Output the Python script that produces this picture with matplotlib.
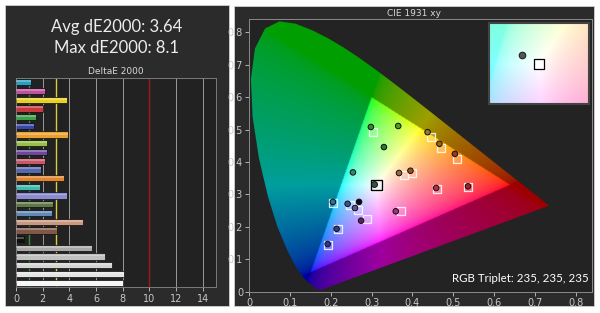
import numpy as np
import matplotlib
matplotlib.use("Agg")
import matplotlib.pyplot as plt
from matplotlib.patches import Rectangle, Polygon

# ---------------- data ----------------
avg_de = 3.64
max_de = 8.1
de_values = [1.1, 2.2, 3.85, 2.0, 1.5, 1.35, 3.9, 2.35, 2.35, 2.2, 1.85, 3.6,
             1.8, 3.85, 2.8, 2.7, 5.05, 3.1, 0.6, 5.7, 6.7, 7.2, 8.1, 8.0]
de_colors = ["#2a9fc6", "#c050a0", "#e8d020", "#c83a40", "#40a048", "#3848a8",
             "#e8a030", "#98c048", "#6a4a98", "#c85868", "#5868b0", "#e08530",
             "#40b8b0", "#8c8cd0", "#607848", "#6088b8", "#c89880", "#805848",
             "#101010", "#a8a8a8", "#c0c0c0", "#d4d4d4", "#e4e4e4", "#f6f6f6"]
de_ticks = [0, 2, 4, 6, 8, 10, 12, 14]
threshold_lines = [1, 3, 10]
threshold_colors = ["#3c8c3c", "#d8cc40", "#a01818"]

# CIE 1931 2-degree spectral locus (380-700 nm)
locus_x = [0.1741, 0.1740, 0.1738, 0.1736, 0.1733, 0.1730, 0.1726, 0.1721, 0.1714,
           0.1703, 0.1689, 0.1669, 0.1644, 0.1611, 0.1566, 0.1510, 0.1440, 0.1355,
           0.1241, 0.1096, 0.0913, 0.0687, 0.0454, 0.0235, 0.0082, 0.0039, 0.0139,
           0.0389, 0.0743, 0.1142, 0.1547, 0.1929, 0.2296, 0.2658, 0.3016, 0.3373,
           0.3731, 0.4087, 0.4441, 0.4788, 0.5125, 0.5448, 0.5752, 0.6029, 0.6270,
           0.6482, 0.6658, 0.6801, 0.6915, 0.7006, 0.7079, 0.7140, 0.7190, 0.7230,
           0.7260, 0.7300, 0.7320, 0.7334, 0.7347]
locus_y = [0.0050, 0.0050, 0.0049, 0.0049, 0.0048, 0.0048, 0.0048, 0.0048, 0.0051,
           0.0058, 0.0069, 0.0086, 0.0109, 0.0138, 0.0177, 0.0227, 0.0297, 0.0399,
           0.0578, 0.0868, 0.1327, 0.2007, 0.2950, 0.4127, 0.5384, 0.6548, 0.7502,
           0.8120, 0.8338, 0.8262, 0.8059, 0.7816, 0.7543, 0.7243, 0.6923, 0.6589,
           0.6245, 0.5896, 0.5547, 0.5202, 0.4866, 0.4544, 0.4242, 0.3965, 0.3725,
           0.3514, 0.3340, 0.3197, 0.3083, 0.2993, 0.2920, 0.2859, 0.2809, 0.2770,
           0.2740, 0.2700, 0.2680, 0.2666, 0.2653]
gamut_x = [0.64, 0.30, 0.15]
gamut_y = [0.33, 0.60, 0.06]

target_x = [0.304, 0.445, 0.471, 0.510, 0.400, 0.378, 0.461, 0.536, 0.206, 0.266,
            0.373, 0.289, 0.217, 0.192, 0.246]
target_y = [0.493, 0.477, 0.444, 0.408, 0.366, 0.360, 0.318, 0.323, 0.274, 0.253,
            0.248, 0.225, 0.194, 0.145, 0.268]
meas_x = [0.298, 0.437, 0.466, 0.504, 0.395, 0.367, 0.458, 0.536, 0.205, 0.259,
          0.359, 0.274, 0.214, 0.192, 0.241, 0.254, 0.330, 0.365, 0.269]
meas_y = [0.508, 0.492, 0.456, 0.425, 0.373, 0.366, 0.320, 0.325, 0.277, 0.258,
          0.248, 0.219, 0.194, 0.147, 0.271, 0.368, 0.446, 0.511, 0.277]
meas_colors = ["#2f8a30", "#9a7a20", "#a06020", "#a03818", "#a05010", "#9a6a40",
               "#b03050", "#a02030", "#3070a0", "#605090", "#a03080", "#602060",
               "#304080", "#283890", "#405090", "#308a70", "#2a7a30", "#5a9a20",
               "#0a0a14"]
white_target = (0.3127, 0.3290)
white_meas = (0.305, 0.333)
rgb_triplet = "RGB Triplet: 235, 235, 235"

# ---------------- helpers ----------------
M = np.array([[3.2406, -1.5372, -0.4986],
              [-0.9689, 1.8758, 0.0415],
              [0.0557, -0.2040, 1.0570]])


def xy_to_rgb(x, y):
    y = np.maximum(y, 1e-4)
    X = x / y
    Y = np.ones_like(x)
    Z = (1 - x - y) / y
    rgb = np.stack([X, Y, Z], -1) @ M.T
    inside = (rgb >= 0).all(-1)
    rgb = np.clip(rgb, 0, None)
    rgb = rgb / np.maximum(rgb.max(-1, keepdims=True), 1e-6)
    rgb = rgb ** (1 / 2.2)
    return rgb, inside


W, H = 600, 313
fig = plt.figure(figsize=(6, 3.13), dpi=100)
fig.patch.set_facecolor("white")


def fx(px):
    return px / W


def fy(py):
    return 1 - py / H


# panels
fig.add_artist(Rectangle((fx(5), fy(306)), fx(224), 301 / H, transform=fig.transFigure,
                         facecolor="#2b2b2b", edgecolor="#d0d0d0", lw=0.6, zorder=0))
fig.add_artist(Rectangle((fx(234), fy(306)), fx(360), 300 / H, transform=fig.transFigure,
                         facecolor="#2b2b2b", edgecolor="#d0d0d0", lw=0.6, zorder=0))

txtc = "#ececec"
fig.text(fx(117), fy(27), f"Avg dE2000: {avg_de:.2f}", ha="center", va="center",
         fontsize=12, color=txtc, family="Lato")
fig.text(fx(117), fy(48), f"Max dE2000: {max_de}", ha="center", va="center",
         fontsize=12, color=txtc, family="Lato")
fig.text(fx(116), fy(72), "DeltaE 2000", ha="center", va="center",
         fontsize=6.5, color="#d8d8d8")

# ---------------- bar chart ----------------
ax = fig.add_axes([fx(16), fy(287), fx(200), 209 / H])
ax.set_facecolor("#222222")
n = len(de_values)
ypos = np.arange(n)
for xv in de_ticks[1:]:
    ax.axvline(xv, color="#9a9a9a", lw=0.7, zorder=1)
for xv, c in zip(threshold_lines, threshold_colors):
    ax.axvline(xv, color=c, lw=1.0, zorder=1)
ax.barh(ypos, de_values, height=0.72, color=de_colors, edgecolor="#0c0c0c", lw=0.5, zorder=2)
ax.barh(ypos - 0.12, de_values, height=0.22, color="white", alpha=0.28, lw=0, zorder=3)
ax.set_xlim(0, 15)
ax.set_ylim(n - 0.5, -0.5)
ax.set_yticks([])
ax.set_xticks(de_ticks)
ax.tick_params(axis="x", colors="#c8c8c8", labelsize=7, length=3, width=0.6, pad=2)
for s in ax.spines.values():
    s.set_color("#7a7a7a")
    s.set_linewidth(0.7)

# ---------------- CIE chart ----------------
fig.text(fx(414), fy(14), "CIE 1931 xy", ha="center", va="center", fontsize=6.5, color="#d8d8d8")
cx = fig.add_axes([fx(249.3), fy(291.7), fx(342.7), 272.4 / H])
cx.set_facecolor("#232323")
gx, gy = np.meshgrid(np.linspace(0, 0.84, 500), np.linspace(0.0005, 0.84, 500))
rgb, inside = xy_to_rgb(gx, gy)
rgb[~inside] *= 0.62
img = cx.imshow(rgb, origin="lower", extent=[0, 0.84, 0, 0.84], aspect="auto",
                interpolation="bilinear", zorder=1)
locus = Polygon(np.column_stack([locus_x, locus_y]), closed=True, transform=cx.transData,
                facecolor="none", edgecolor="none")
cx.add_patch(locus)
img.set_clip_path(locus)

cx.scatter(target_x, target_y, marker="s", s=30, facecolor=(1, 1, 1, 0.15),
           edgecolor=(1, 1, 1, 0.85), lw=0.9, zorder=4)
cx.scatter(meas_x, meas_y, marker="o", s=16, c=meas_colors, edgecolor="#101010", lw=0.7, zorder=5)
cx.scatter([white_target[0]], [white_target[1]], marker="s", s=60, facecolor="none",
           edgecolor="white", lw=2.2, zorder=6)
cx.scatter([white_target[0]], [white_target[1]], marker="s", s=60, facecolor="none",
           edgecolor="black", lw=1.0, zorder=7)
cx.scatter([white_meas[0]], [white_meas[1]], marker="o", s=18, c="#2a5a40",
           edgecolor="#101010", lw=0.7, zorder=8)

cx.set_xlim(0, 0.84)
cx.set_ylim(0, 0.84)
cx.set_xticks(np.arange(0, 0.81, 0.1))
cx.set_yticks(np.arange(0, 0.81, 0.1))
cx.set_xticklabels(["0"] + [f"{v:.1f}" for v in np.arange(0.1, 0.81, 0.1)])
cx.set_yticklabels(["0"] + [f"{v:.1f}" for v in np.arange(0.1, 0.81, 0.1)])
cx.tick_params(colors="#c8c8c8", labelsize=7, length=3, width=0.6, pad=1.5)
for s in cx.spines.values():
    s.set_color("#8a8a8a")
    s.set_linewidth(0.7)

cx.text(0.99, 0.05, rgb_triplet, transform=cx.transAxes, ha="right", va="center",
        fontsize=8.3, color="white", family="Lato", zorder=9)

# ---------------- inset ----------------
ix = fig.add_axes([fx(489), fy(104), fx(100), 81 / H])
hx, hy = 0.022, 0.019
ix_x0, ix_x1 = white_target[0] - hx, white_target[0] + hx
ix_y0, ix_y1 = white_target[1] - hy, white_target[1] + hy
ggx, ggy = np.meshgrid(np.linspace(ix_x0, ix_x1, 120), np.linspace(ix_y0, ix_y1, 100))
k = 4.5
irgb, _ = xy_to_rgb(white_target[0] + k * (ggx - white_target[0]),
                    white_target[1] + k * (ggy - white_target[1]))
irgb = 0.5 * irgb + 0.5
ix.imshow(irgb, origin="lower", extent=[ix_x0, ix_x1, ix_y0, ix_y1], aspect="auto",
          interpolation="bilinear")
ix.scatter([white_target[0]], [white_target[1]], marker="s", s=42, facecolor="white",
           edgecolor="black", lw=0.9, zorder=3)
ix.scatter([white_meas[0]], [white_meas[1]], marker="o", s=22, c="#555555",
           edgecolor="#222222", lw=0.8, zorder=4)
ix.set_xlim(ix_x0, ix_x1)
ix.set_ylim(ix_y0, ix_y1)
ix.set_xticks([])
ix.set_yticks([])
for s in ix.spines.values():
    s.set_color("#444444")
    s.set_linewidth(1.5)

fig.savefig("out.png", dpi=100, facecolor=fig.get_facecolor())
